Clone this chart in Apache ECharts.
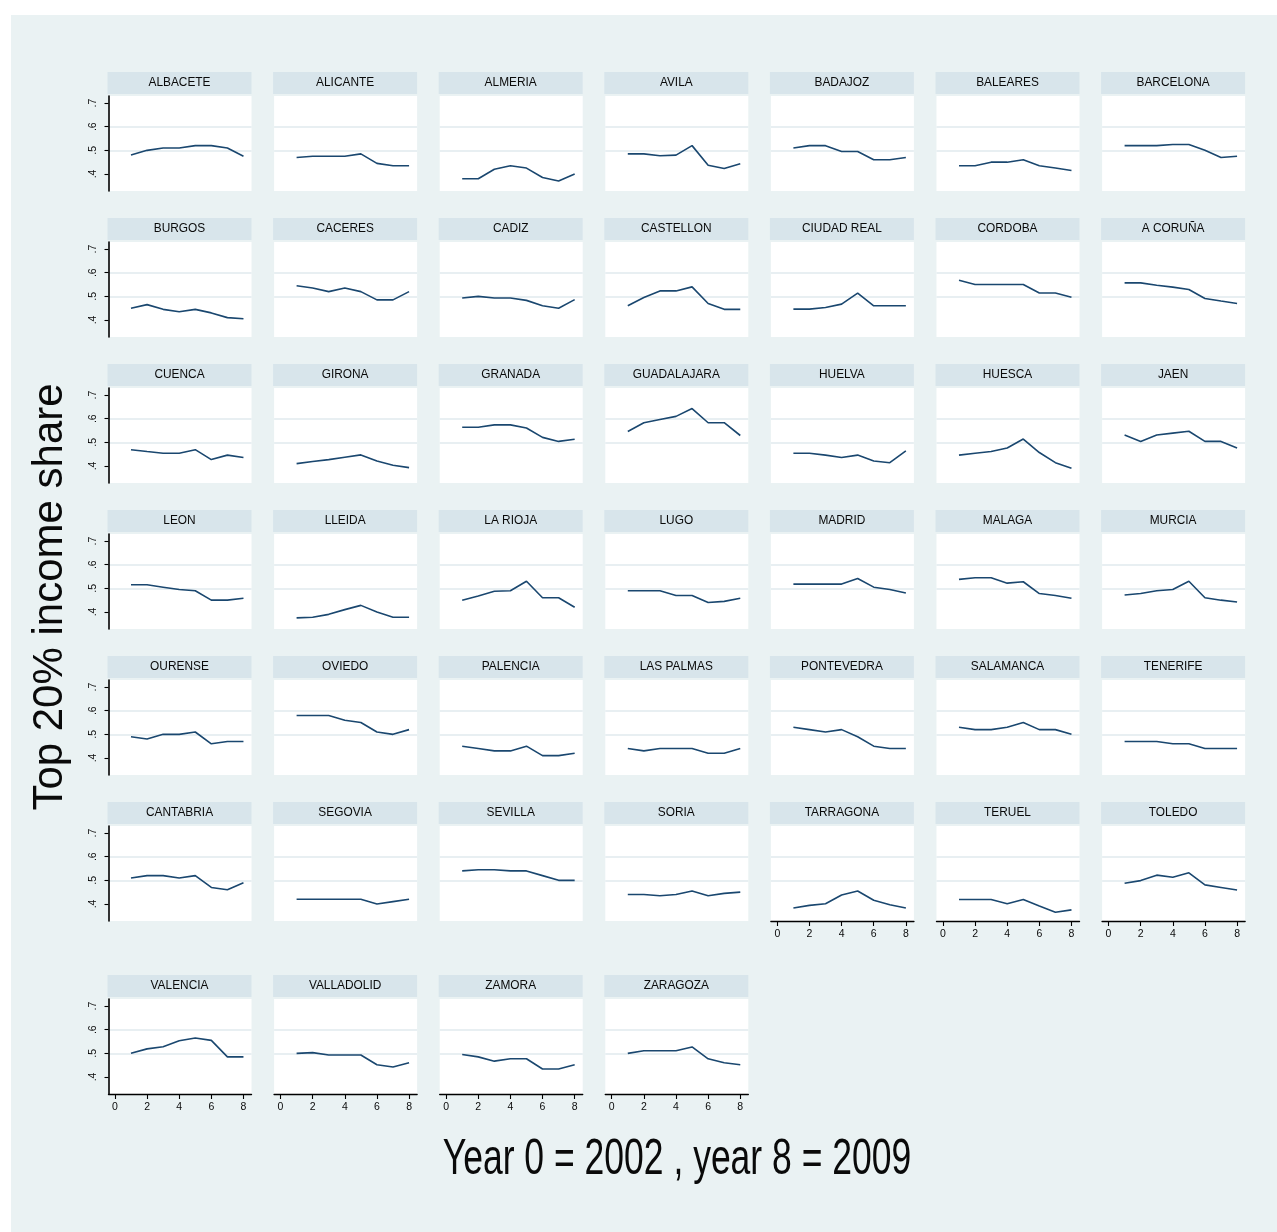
<!DOCTYPE html>
<html>
<head>
<meta charset="utf-8">
<script src="https://cdn.jsdelivr.net/npm/echarts@6/dist/echarts.min.js"></script>
<style>
  html, body { margin: 0; padding: 0; background: #ffffff; }
  #chart {
    width: 1277px; height: 1232px;
    background: linear-gradient(#eaf2f3, #eaf2f3) 11px 15px / 1266px 1217px no-repeat, #ffffff;
  }
</style>
</head>
<body>
<div id="chart"></div>
<script>
// Years on the x axis (year 0 = 2002, year 8 = 2009)
const years = [1, 2, 3, 4, 5, 6, 7, 8];
const xTicks = [0, 2, 4, 6, 8];
const yTicks = [0.4, 0.5, 0.6, 0.7];

// Top 20% income share by province
const ALBACETE    = [0.480, 0.500, 0.510, 0.510, 0.520, 0.520, 0.510, 0.475];
const ALICANTE    = [0.470, 0.475, 0.475, 0.475, 0.485, 0.445, 0.435, 0.435];
const ALMERIA     = [0.380, 0.380, 0.420, 0.435, 0.425, 0.385, 0.370, 0.400];
const AVILA       = [0.485, 0.485, 0.477, 0.480, 0.520, 0.437, 0.423, 0.443];
const BADAJOZ     = [0.510, 0.520, 0.520, 0.495, 0.495, 0.460, 0.460, 0.470];
const BALEARES    = [0.435, 0.435, 0.450, 0.450, 0.460, 0.435, 0.425, 0.415];
const BARCELONA   = [0.520, 0.520, 0.520, 0.525, 0.525, 0.500, 0.470, 0.475];
const BURGOS      = [0.450, 0.465, 0.445, 0.435, 0.445, 0.430, 0.410, 0.405];
const CACERES     = [0.545, 0.535, 0.520, 0.535, 0.520, 0.485, 0.485, 0.520];
const CADIZ       = [0.493, 0.500, 0.493, 0.493, 0.483, 0.460, 0.450, 0.486];
const CASTELLON   = [0.460, 0.495, 0.523, 0.523, 0.540, 0.470, 0.445, 0.445];
const CIUDAD_REAL = [0.446, 0.446, 0.453, 0.467, 0.514, 0.460, 0.460, 0.460];
const CORDOBA     = [0.568, 0.550, 0.550, 0.550, 0.550, 0.514, 0.514, 0.496];
const A_CORUNA    = [0.557, 0.557, 0.547, 0.539, 0.529, 0.491, 0.480, 0.470];
const CUENCA      = [0.469, 0.461, 0.454, 0.454, 0.469, 0.427, 0.446, 0.436];
const GIRONA      = [0.410, 0.419, 0.427, 0.437, 0.447, 0.421, 0.403, 0.393];
const GRANADA     = [0.564, 0.564, 0.574, 0.574, 0.561, 0.521, 0.504, 0.513];
const GUADALAJARA = [0.546, 0.583, 0.597, 0.610, 0.643, 0.583, 0.583, 0.529];
const HUELVA      = [0.454, 0.454, 0.446, 0.436, 0.446, 0.421, 0.414, 0.464];
const HUESCA      = [0.446, 0.454, 0.461, 0.476, 0.514, 0.457, 0.414, 0.390];
const JAEN        = [0.531, 0.504, 0.531, 0.539, 0.547, 0.504, 0.504, 0.476];
const LEON        = [0.515, 0.515, 0.505, 0.495, 0.490, 0.450, 0.450, 0.458];
const LLEIDA      = [0.375, 0.378, 0.390, 0.410, 0.428, 0.400, 0.378, 0.378];
const LA_RIOJA    = [0.450, 0.468, 0.488, 0.490, 0.530, 0.460, 0.460, 0.420];
const LUGO        = [0.490, 0.490, 0.490, 0.470, 0.470, 0.440, 0.445, 0.458];
const MADRID      = [0.518, 0.518, 0.518, 0.518, 0.542, 0.505, 0.495, 0.480];
const MALAGA      = [0.538, 0.545, 0.545, 0.522, 0.528, 0.478, 0.470, 0.458];
const MURCIA      = [0.472, 0.478, 0.490, 0.495, 0.530, 0.460, 0.450, 0.442];
const OURENSE     = [0.490, 0.480, 0.500, 0.500, 0.510, 0.460, 0.470, 0.470];
const OVIEDO      = [0.580, 0.580, 0.580, 0.560, 0.550, 0.510, 0.500, 0.520];
const PALENCIA    = [0.450, 0.440, 0.430, 0.430, 0.450, 0.410, 0.410, 0.420];
const LAS_PALMAS  = [0.440, 0.430, 0.440, 0.440, 0.440, 0.420, 0.420, 0.440];
const PONTEVEDRA  = [0.530, 0.520, 0.510, 0.520, 0.490, 0.450, 0.440, 0.440];
const SALAMANCA   = [0.530, 0.520, 0.520, 0.530, 0.550, 0.520, 0.520, 0.500];
const TENERIFE    = [0.470, 0.470, 0.470, 0.460, 0.460, 0.440, 0.440, 0.440];
const CANTABRIA   = [0.510, 0.520, 0.520, 0.510, 0.520, 0.470, 0.460, 0.490];
const SEGOVIA     = [0.420, 0.420, 0.420, 0.420, 0.420, 0.400, 0.410, 0.420];
const SEVILLA     = [0.540, 0.545, 0.545, 0.540, 0.540, 0.520, 0.500, 0.500];
const SORIA       = [0.440, 0.440, 0.435, 0.440, 0.455, 0.435, 0.445, 0.450];
const TARRAGONA   = [0.383, 0.394, 0.401, 0.438, 0.455, 0.416, 0.397, 0.383];
const TERUEL      = [0.419, 0.419, 0.419, 0.401, 0.419, 0.391, 0.365, 0.375];
const TOLEDO      = [0.488, 0.499, 0.522, 0.513, 0.532, 0.481, 0.470, 0.459];
const VALENCIA    = [0.500, 0.519, 0.528, 0.553, 0.565, 0.555, 0.485, 0.485];
const VALLADOLID  = [0.500, 0.503, 0.493, 0.493, 0.493, 0.452, 0.442, 0.460];
const ZAMORA      = [0.495, 0.485, 0.467, 0.477, 0.477, 0.434, 0.434, 0.452];
const ZARAGOZA    = [0.500, 0.511, 0.511, 0.511, 0.527, 0.477, 0.460, 0.452];

const panels = [
  ['ALBACETE', ALBACETE], ['ALICANTE', ALICANTE], ['ALMERIA', ALMERIA], ['AVILA', AVILA],
  ['BADAJOZ', BADAJOZ], ['BALEARES', BALEARES], ['BARCELONA', BARCELONA],
  ['BURGOS', BURGOS], ['CACERES', CACERES], ['CADIZ', CADIZ], ['CASTELLON', CASTELLON],
  ['CIUDAD REAL', CIUDAD_REAL], ['CORDOBA', CORDOBA], ['A CORUÑA', A_CORUNA],
  ['CUENCA', CUENCA], ['GIRONA', GIRONA], ['GRANADA', GRANADA], ['GUADALAJARA', GUADALAJARA],
  ['HUELVA', HUELVA], ['HUESCA', HUESCA], ['JAEN', JAEN],
  ['LEON', LEON], ['LLEIDA', LLEIDA], ['LA RIOJA', LA_RIOJA], ['LUGO', LUGO],
  ['MADRID', MADRID], ['MALAGA', MALAGA], ['MURCIA', MURCIA],
  ['OURENSE', OURENSE], ['OVIEDO', OVIEDO], ['PALENCIA', PALENCIA], ['LAS PALMAS', LAS_PALMAS],
  ['PONTEVEDRA', PONTEVEDRA], ['SALAMANCA', SALAMANCA], ['TENERIFE', TENERIFE],
  ['CANTABRIA', CANTABRIA], ['SEGOVIA', SEGOVIA], ['SEVILLA', SEVILLA], ['SORIA', SORIA],
  ['TARRAGONA', TARRAGONA], ['TERUEL', TERUEL], ['TOLEDO', TOLEDO],
  ['VALENCIA', VALENCIA], ['VALLADOLID', VALLADOLID], ['ZAMORA', ZAMORA], ['ZARAGOZA', ZARAGOZA]
];

// Layout
const COLS = 7;
const COL0 = 107.5, COLSTEP = 165.6, PANEL_W = 144;
const ROW_TOP = [72, 218, 364, 510, 656, 802, 975];
const STRIP_H = 22, PLOT_OFF = 24, PLOT_H = 95;
const X_MIN = -0.4, X_MAX = 8.5, Y_MIN = 0.328, Y_MAX = 0.73;

const LINE = '#1a476f', STRIP = '#d8e5eb', GRIDLINE = '#e0eaee', INK = '#0a0a0a';
const NARROW = "'Liberation Sans Narrow', 'Liberation Sans', Arial, sans-serif";
const SANS = "'Liberation Sans', Arial, sans-serif";

const grids = [], xAxes = [], yAxes = [], series = [], graphics = [];

panels.forEach(([name, vals], k) => {
  const row = Math.floor(k / COLS), col = k % COLS;
  const left = COL0 + col * COLSTEP, top = ROW_TOP[row];
  const lastRow = row === 6 || (row === 5 && col >= 4);
  const firstCol = col === 0;

  graphics.push({
    type: 'rect', silent: true,
    shape: { x: left, y: top, width: PANEL_W, height: STRIP_H },
    style: { fill: STRIP }
  });
  graphics.push({
    type: 'text', silent: true,
    x: left + PANEL_W / 2, y: top + STRIP_H / 2 - 1, scaleX: 0.88,
    style: { text: name, fill: INK, font: '13.5px ' + SANS, align: 'center', verticalAlign: 'middle' }
  });

  grids.push({
    left: left + 1, top: top + PLOT_OFF, width: PANEL_W - 1, height: PLOT_H,
    show: true, backgroundColor: '#ffffff', borderWidth: 0
  });

  xAxes.push({
    gridIndex: k, type: 'value', min: X_MIN, max: X_MAX,
    axisLine: { show: lastRow, onZero: false, lineStyle: { color: '#000', width: 1.4 } },
    axisTick: { show: lastRow, customValues: xTicks, length: 5, lineStyle: { color: '#000', width: 1.1 } },
    axisLabel: { show: lastRow, customValues: xTicks, margin: 8, color: INK, fontSize: 10.5, fontFamily: NARROW },
    splitLine: { show: false }
  });

  yAxes.push({
    gridIndex: k, type: 'value', min: Y_MIN, max: Y_MAX,
    axisLine: { show: firstCol, onZero: false, lineStyle: { color: '#000', width: 1.6 } },
    axisTick: { show: firstCol, customValues: yTicks, length: 4, lineStyle: { color: '#000', width: 1.1 } },
    axisLabel: {
      show: firstCol, customValues: yTicks, rotate: 90, margin: 10,
      color: INK, fontSize: 10.5, fontFamily: NARROW,
      formatter: v => String(Math.round(v * 10) / 10).replace(/^0\./, '.')
    },
    splitLine: { show: true, showMinLine: false, showMaxLine: false, lineStyle: { color: GRIDLINE, width: 1.6 } }
  });

  series.push({
    type: 'line', name, xAxisIndex: k, yAxisIndex: k,
    data: years.map((x, i) => [x, vals[i]]),
    symbol: 'none', silent: true,
    lineStyle: { color: LINE, width: 1.6 }
  });
});

// Axis titles
graphics.push({
  type: 'text', silent: true, x: 50, y: 597, rotation: Math.PI / 2,
  style: { text: 'Top 20% income share', fill: INK, font: '42px ' + SANS, align: 'center', verticalAlign: 'middle' }
});
graphics.push({
  type: 'text', silent: true, x: 677, y: 1160, scaleX: 0.71,
  style: { text: 'Year 0 = 2002 , year 8 = 2009', fill: INK, font: '50px ' + SANS, align: 'center', verticalAlign: 'middle' }
});

const chart = echarts.init(document.getElementById('chart'), null, { renderer: 'canvas' });
chart.setOption({
  backgroundColor: 'transparent',
  animation: false,
  grid: grids, xAxis: xAxes, yAxis: yAxes, series,
  graphic: { elements: graphics }
});
</script>
</body>
</html>
